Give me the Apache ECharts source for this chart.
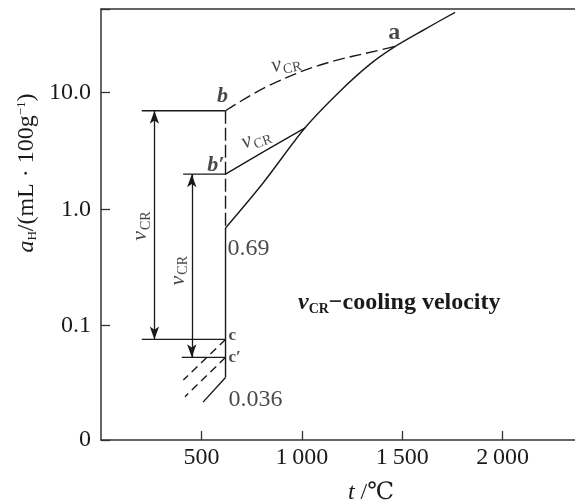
<!DOCTYPE html>
<html>
<head>
<meta charset="utf-8">
<script src="https://cdn.jsdelivr.net/npm/echarts@6/dist/echarts.min.js"></script>
<style>
  html, body { margin: 0; padding: 0; background: #fff; }
  #chart { width: 575px; height: 502px; }
</style>
</head>
<body>
<div id="chart"></div>
<script>
// Hydrogen content of the melt against temperature (log scale), with cooling paths.

// tick labels
const tempTickLabels = [500, 1000, 1500, 2000];
const hydrogenTickLabels = [0.1, 1, 10];

// equilibrium solubility curve, from 0.69 up through point a
const solubT = [620, 807, 1016, 1190, 1340, 1465, 1614, 1763];
const solubH = [0.69, 1.68, 5.0, 10.3, 17.6, 25, 35.2, 49];
const pointAIndex = 5;

// cooling path a -> b (dashed)
const pathAT = [620, 826, 1091, 1423, 1465];
const pathAH = [7, 11.3, 17.3, 24, 25];

// cooling path from the curve down to b'
const pathBT = [620, 821, 1016];
const pathBH = [2, 3.2, 5];

// solidification temperature, levels b, b', c, c'
const solidusT = 620;
const levelNames = ['b', 'b\u2032', 'c', 'c\u2032'];
const levelH = [7, 2, 0.0763, 0.0535];
const levelStartT = [203, 409, 203, 402];
const meltEdgeH = 0.69;
const solidEdgeH = 0.036;

// arrows b–c and b'–c'
const arrowT = [266, 452];

// extrapolated tails below c, c' and the solid edge
const tailT = [410, 418, 508];
const tailH = [0.0342, 0.0246, 0.0221];

const INK = '#1a1a1a';
const AXIS = '#333';
const SERIF = "'Liberation Serif', 'DejaVu Serif', 'Noto Sans CJK SC', serif";

function fmtTemp(v) {
  if (!tempTickLabels.includes(v)) return '';
  return v >= 1000 ? Math.floor(v / 1000) + '\u2009' + String(v % 1000).padStart(3, '0') : String(v);
}
function fmtH(v) {
  const hit = hydrogenTickLabels.find(h => Math.abs(Math.log10(v) - Math.log10(h)) < 1e-6);
  if (hit != null) return hit >= 1 ? hit.toFixed(1) : String(hit);
  return v < hydrogenTickLabels[0] ? '0' : '';
}
// label offsets are given on screen; convert to the rotated label frame
function rotOffset(dx, dy, deg) {
  const r = deg * Math.PI / 180, c = Math.cos(r), s = Math.sin(r);
  return [c * dx - s * dy, s * dx + c * dy];
}
const zip = (xs, ys) => xs.map((x, i) => [x, ys[i]]);

function path(name, pts, dash, extra) {
  return Object.assign({
    type: 'line', name, data: pts, symbol: 'none', silent: true,
    lineStyle: { color: INK, width: 1.4, type: dash || 'solid' }, z: 3
  }, extra || {});
}

const vcr = '{v|v}{s|CR}';
const vcrRich = {
  v: { fontFamily: SERIF, fontStyle: 'italic', fontSize: 22, color: INK },
  s: { fontFamily: SERIF, fontSize: 14, color: INK, padding: [12, 0, 0, 1] }
};

const geo = (a, b) => Math.sqrt(a * b);

const notes = [
  { value: [solubT[pointAIndex], solubH[pointAIndex]], label: { formatter: 'a', offset: [-1, -14], fontSize: 24, fontWeight: 'bold' } },
  { value: [solidusT, levelH[0]], label: { formatter: levelNames[0], offset: [-3, -14], fontSize: 22, fontStyle: 'italic', fontWeight: 'bold' } },
  { value: [solidusT, levelH[1]], label: { formatter: levelNames[1], align: 'right', offset: [-1, -9], fontSize: 22, fontStyle: 'italic', fontWeight: 'bold' } },
  { value: [solidusT, levelH[2]], label: { formatter: levelNames[2], align: 'left', offset: [3, -4], fontSize: 17, fontWeight: 'bold' } },
  { value: [solidusT, levelH[3]], label: { formatter: levelNames[3], align: 'left', offset: [3, 0], fontSize: 17, fontWeight: 'bold' } },
  { value: [solidusT, meltEdgeH], label: { formatter: String(meltEdgeH), align: 'left', offset: [2, 21], fontSize: 24 } },
  { value: [solidusT, solidEdgeH], label: { formatter: String(solidEdgeH), align: 'left', offset: [3, 22], fontSize: 24 } },
  { value: [pathAT[1], pathAH[1]], label: { formatter: vcr, rich: vcrRich, rotate: 12, offset: rotOffset(19, -23, 12) } },
  { value: [pathBT[1], pathBH[1]], label: { formatter: vcr, rich: vcrRich, rotate: 20, offset: rotOffset(-10, -12, 20) } },
  { value: [arrowT[0], geo(levelH[0], levelH[2])], label: { formatter: vcr, rich: vcrRich, rotate: 90, offset: rotOffset(-14, 1, 90) } },
  { value: [arrowT[1], geo(levelH[1], levelH[3])], label: { formatter: vcr, rich: vcrRich, rotate: 90, offset: rotOffset(-14, 5, 90) } }
];

const series = [
  path('solubility', zip(solubT, solubH), null, { smooth: 0.3 }),
  path('path a-b', zip(pathAT, pathAH), [12, 5], { smooth: 0.35 }),
  path("path to b'", zip(pathBT, pathBH), null, { smooth: 0.3 }),
  path('melt edge', [[solidusT, levelH[0]], [solidusT, meltEdgeH]], [13, 4]),
  path('solid edge', [[solidusT, meltEdgeH], [solidusT, solidEdgeH]]),
  ...levelNames.map((n, i) => path(n, [[levelStartT[i], levelH[i]], [solidusT, levelH[i]]])),
  path('tail c', [[solidusT, levelH[2]], [tailT[0], tailH[0]]], [8, 5]),
  path("tail c'", [[solidusT, levelH[3]], [tailT[1], tailH[1]]], [8, 5]),
  path('tail solid', [[solidusT, solidEdgeH], [tailT[2], tailH[2]]]),
  {
    type: 'lines', coordinateSystem: 'cartesian2d', silent: true, z: 4,
    symbol: ['arrow', 'arrow'], symbolSize: [[7, 13], [7, 13]],
    lineStyle: { color: INK, width: 1.3, opacity: 1, curveness: 0 },
    data: arrowT.map((t, i) => ({ coords: [[t, levelH[i]], [t, levelH[i + 2]]] }))
  },
  {
    type: 'scatter', name: 'notes', symbolSize: 0, silent: true, z: 5,
    label: { show: true, position: 'inside', color: INK, fontFamily: SERIF },
    data: notes
  }
];

const chart = echarts.init(document.getElementById('chart'));
chart.setOption({
  animation: false,
  backgroundColor: '#fff',
  grid: { left: 101, right: 0, top: 9, bottom: 62 },
  xAxis: [
    {
      type: 'value', position: 'bottom', min: 0, max: 2360, interval: 500,
      axisLine: { lineStyle: { color: AXIS, width: 1.5 } },
      axisTick: { inside: true, length: 9, customValues: tempTickLabels, lineStyle: { color: AXIS, width: 1.3 } },
      axisLabel: { formatter: fmtTemp, customValues: tempTickLabels, color: INK, fontFamily: SERIF, fontSize: 24, margin: 6 },
      splitLine: { show: false }
    },
    {
      type: 'value', position: 'top', min: 0, max: 2360,
      axisLine: { show: true, lineStyle: { color: AXIS, width: 1.5 } },
      axisTick: { show: false }, axisLabel: { show: false }, splitLine: { show: false }
    }
  ],
  yAxis: {
    type: 'log', logBase: 10, min: 0.01045, max: 52.3,
    axisLine: { lineStyle: { color: AXIS, width: 1.5 } },
    axisTick: { inside: true, length: 9, lineStyle: { color: AXIS, width: 1.3 } },
    axisLabel: { formatter: fmtH, color: INK, fontFamily: SERIF, fontSize: 24, margin: 10 },
    splitLine: { show: false }
  },
  graphic: [
    {
      type: 'text', x: 27, y: 173, rotation: Math.PI / 2,
      style: {
        text: '{a|a}{h|H}{t|/(mL \u00b7 100g}{p|\u22121}{t|)}',
        align: 'center', verticalAlign: 'middle', fill: INK,
        rich: {
          a: { font: "italic 24px " + SERIF, fill: INK },
          h: { font: "13px " + SERIF, fill: INK, padding: [12, 0, 0, 0] },
          t: { font: "24px " + SERIF, fill: INK },
          p: { font: "13px " + SERIF, fill: INK, padding: [0, 0, 10, 0] }
        }
      }
    },
    {
      type: 'text', x: 371, y: 493,
      style: {
        text: '{t|t}{r| /\u2103}',
        align: 'center', verticalAlign: 'middle', fill: INK,
        rich: {
          t: { font: "italic 24px " + SERIF, fill: INK },
          r: { font: "24px " + SERIF, fill: INK }
        }
      }
    },
    {
      type: 'text', x: 298, y: 303,
      style: {
        text: '{v|v}{s|CR}{t|\u2212cooling velocity}',
        align: 'left', verticalAlign: 'middle', fill: INK,
        rich: {
          v: { font: "italic bold 24px " + SERIF, fill: INK },
          s: { font: "bold 14px " + SERIF, fill: INK, padding: [12, 0, 0, 0] },
          t: { font: "bold 24px " + SERIF, fill: INK }
        }
      }
    }
  ],
  series
});
</script>
</body>
</html>
